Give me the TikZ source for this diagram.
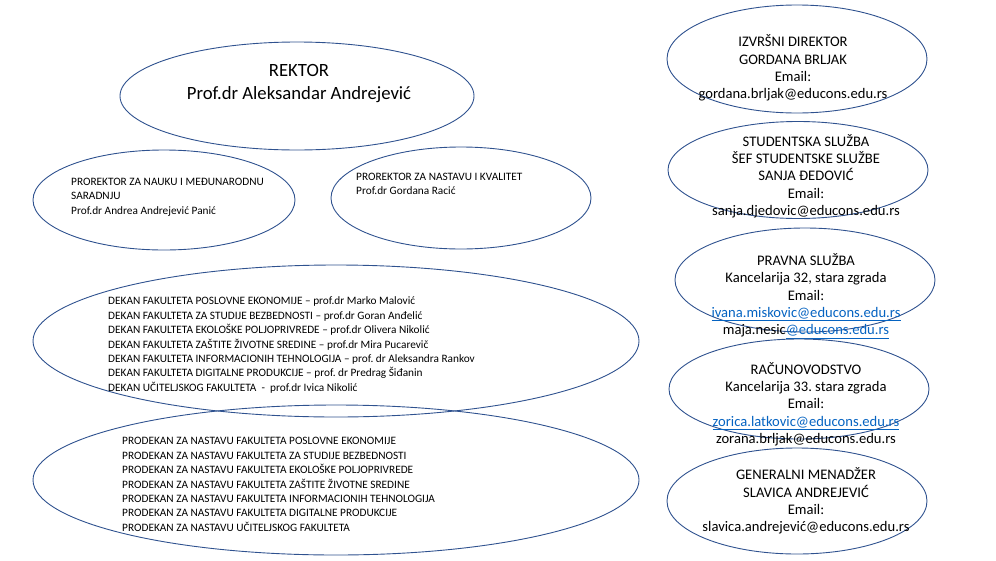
\documentclass[tikz,border=0pt]{standalone}
\usepackage{fontspec}
\setmainfont{Carlito}
\usepackage{xcolor}
\usepackage{tikz}
\usetikzlibrary{shapes.geometric, positioning}
\definecolor{ovalblue}{HTML}{2F528F}
\definecolor{linkblue}{HTML}{0563C1}
\tikzstyle{oval} = [ellipse, draw=ovalblue, line width=0.9, inner sep=0pt]
\tikzstyle{bigtxt} = [inner sep=0pt, align=center, font=\fontsize{18.7}{23}\selectfont]
\tikzstyle{midtxt} = [inner sep=0pt, align=center, font=\fontsize{14.6}{17.3}\selectfont]
\tikzstyle{smalltxt} = [inner sep=0pt, align=left, anchor=west, font=\fontsize{11.3}{14.4}\selectfont]
\newcommand{\veza}[1]{{\color{linkblue}\underline{#1}}}
\frenchspacing

\begin{document}
\begin{tikzpicture}[x=1pt, y=-1pt]
    \useasboundingbox (0,0) rectangle (996,560);

    % Rukovodstvo
    \node[oval, minimum width=354, minimum height=108] (rektor) at (297,96) {};
    \node[bigtxt] (rektorTxt) at (299,84) {REKTOR\\Prof.dr Aleksandar Andrejević};

    \node[oval, minimum width=262, minimum height=100] (prorNauka) at (164,200) {};
    \node[smalltxt] (prorNaukaTxt) at (71,197) {PROREKTOR ZA NAUKU I MEĐUNARODNU\\SARADNJU\\Prof.dr Andrea Andrejević Panić};

    \node[oval, minimum width=260, minimum height=102] (prorNastava) at (461,198) {};
    \node[smalltxt] (prorNastavaTxt) at (356,184) {PROREKTOR ZA NASTAVU I KVALITET\\Prof.dr Gordana Racić};

    % Dekani i prodekani
    \node[oval, minimum width=606, minimum height=152] (dekani) at (336,341) {};
    \node[smalltxt] (dekaniTxt) at (108,345) {DEKAN FAKULTETA POSLOVNE EKONOMIJE – prof.dr Marko Malović\\
        DEKAN FAKULTETA ZA STUDIJE BEZBEDNOSTI – prof.dr Goran Anđelić\\
        DEKAN FAKULTETA EKOLOŠKE POLJOPRIVREDE – prof.dr Olivera Nikolić\\
        DEKAN FAKULTETA ZAŠTITE ŽIVOTNE SREDINE – prof.dr Mira Pucarevič\\
        DEKAN FAKULTETA INFORMACIONIH TEHNOLOGIJA – prof. dr Aleksandra Rankov\\
        DEKAN FAKULTETA DIGITALNE PRODUKCIJE – prof. dr Predrag Šiđanin\\
        DEKAN UČITELJSKOG FAKULTETA \ - \ prof.dr Ivica Nikolić};

    \node[oval, minimum width=606, minimum height=150] (prodekani) at (336,480) {};
    \node[smalltxt] (prodekaniTxt) at (122,484.5) {PRODEKAN ZA NASTAVU FAKULTETA POSLOVNE EKONOMIJE\\
        PRODEKAN ZA NASTAVU FAKULTETA ZA STUDIJE BEZBEDNOSTI\\
        PRODEKAN ZA NASTAVU FAKULTETA EKOLOŠKE POLJOPRIVREDE\\
        PRODEKAN ZA NASTAVU FAKULTETA ZAŠTITE ŽIVOTNE SREDINE\\
        PRODEKAN ZA NASTAVU FAKULTETA INFORMACIONIH TEHNOLOGIJA\\
        PRODEKAN ZA NASTAVU FAKULTETA DIGITALNE PRODUKCIJE\\
        PRODEKAN ZA NASTAVU UČITELJSKOG FAKULTETA};

    % Sluzbe (desna kolona)
    \node[oval, minimum width=260, minimum height=108] (izvrsni) at (797,59) {};
    \node[midtxt] (izvrsniTxt) at (793,68) {IZVRŠNI DIREKTOR\\GORDANA BRLJAK\\Email:\\gordana.brljak@educons.edu.rs};

    \node[oval, minimum width=260, minimum height=97] (studSluzba) at (798,170) {};
    \node[midtxt] (studSluzbaTxt) at (806,176) {STUDENTSKA SLUŽBA\\ŠEF STUDENTSKE SLUŽBE\\SANJA ĐEDOVIĆ\\Email:\\sanja.djedovic@educons.edu.rs};

    \node[oval, minimum width=260, minimum height=104] (pravna) at (805,280) {};
    \node[midtxt] (pravnaTxt) at (806,296) {PRAVNA SLUŽBA\\Kancelarija 32, stara zgrada\\Email:\\\veza{ivana.miskovic@educons.edu.rs}\\maja.nesic\veza{@educons.edu.rs}};

    \node[oval, minimum width=260, minimum height=100] (racun) at (799,389) {};
    \node[midtxt] (racunTxt) at (806,404) {RAČUNOVODSTVO\\Kancelarija 33. stara zgrada\\Email:\\\veza{zorica.latkovic@educons.edu.rs}\\zorana.brljak@educons.edu.rs};

    \node[oval, minimum width=260, minimum height=106] (genMen) at (797,501) {};
    \node[midtxt] (genMenTxt) at (806,501) {GENERALNI MENADŽER\\SLAVICA ANDREJEVIĆ\\Email:\\slavica.andrejević@educons.edu.rs};
\end{tikzpicture}
\end{document}
